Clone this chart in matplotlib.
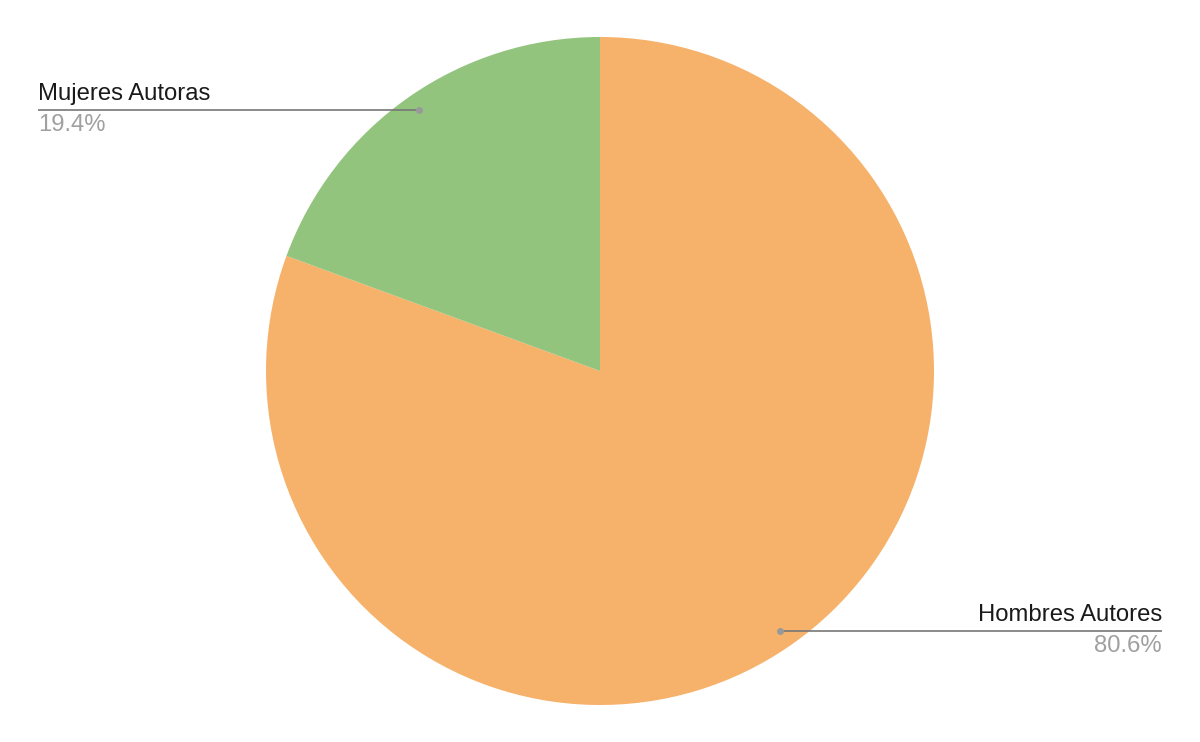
import matplotlib.pyplot as plt

# data
labels = ['Hombres Autores', 'Mujeres Autoras']
values = [80.6, 19.4]
colors = ['#F6B26B', '#93C47D']

plt.rcParams['font.family'] = ['Liberation Sans', 'DejaVu Sans']

fig = plt.figure(figsize=(12, 7.42), dpi=100)
ax = fig.add_axes([0, 0, 1, 1])

ax.pie(values, colors=colors, startangle=90, counterclock=False,
       center=(600, 371), radius=334, frame=True,
       wedgeprops=dict(linewidth=0))
ax.set_xlim(0, 1200)
ax.set_ylim(0, 742)
ax.set_aspect('equal')
ax.axis('off')

# leader lines and labels (pixel coords, y from bottom)
ann = [
    # label, pct, dot x, dot y, line end x, align
    ('Hombres Autores', '80.6%', 780, 111, 1162, 'right'),
    ('Mujeres Autoras', '19.4%', 419, 632, 38, 'left'),
]
for lab, pct, dx, dy, ex, ha in ann:
    ax.plot([dx, ex], [dy, dy], color='#777777', lw=1.2, solid_capstyle='butt')
    ax.plot(dx, dy, 'o', color='#999999', ms=5, mec='none')
    ax.text(ex, dy + 5, lab, ha=ha, va='bottom', fontsize=17.2, color='#1a1a1a')
    ax.text(ex, dy - 4, pct, ha=ha, va='top', fontsize=17.2, color='#a0a0a0')

plt.savefig('out.png', dpi=100)
